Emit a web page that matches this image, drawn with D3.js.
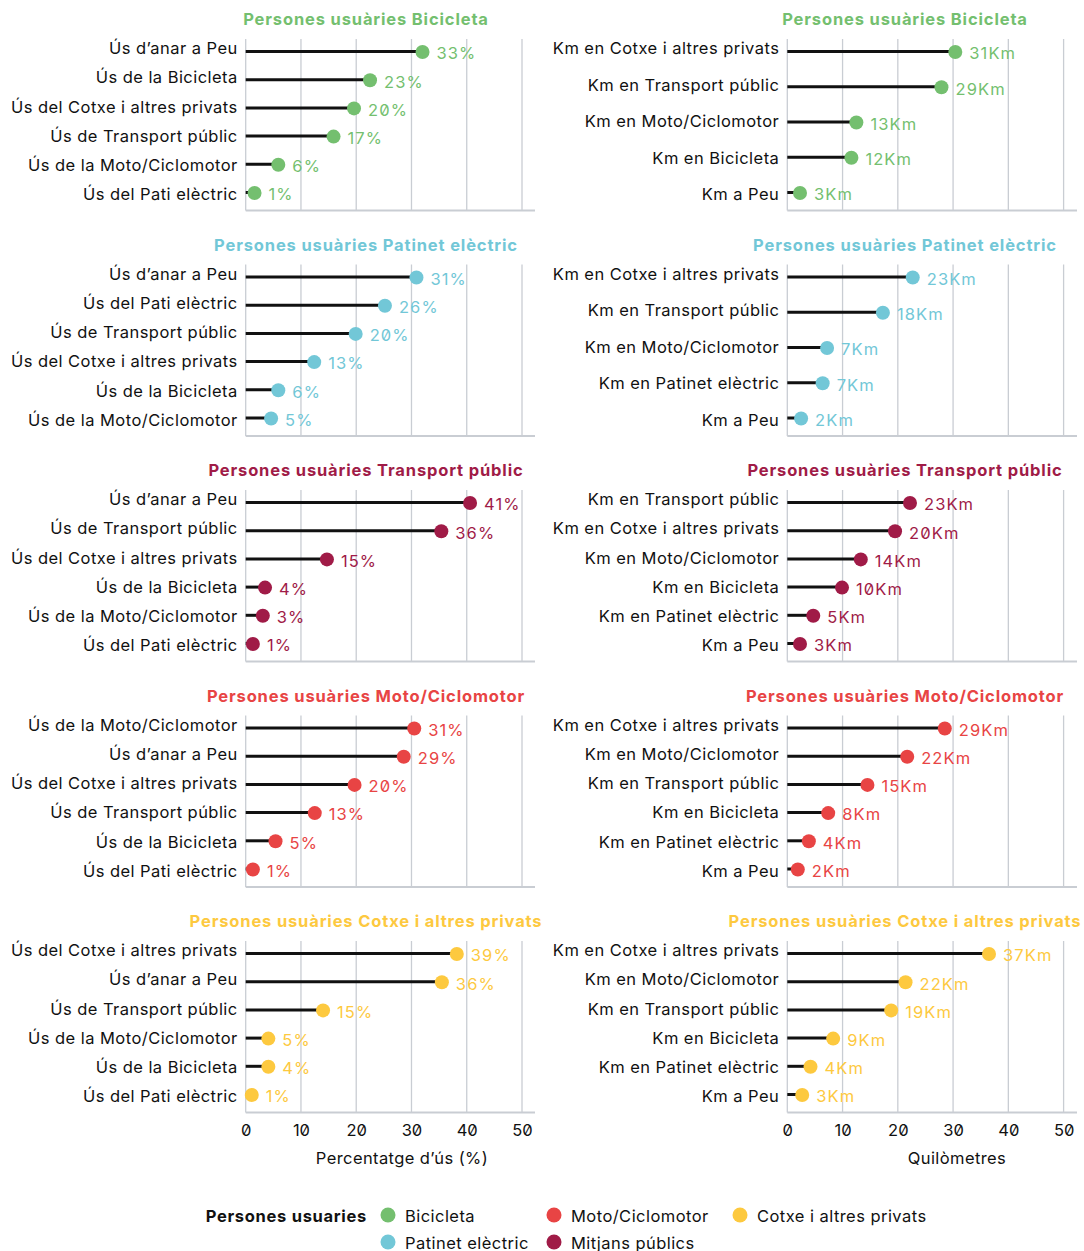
<!DOCTYPE html>
<html>
<head>
<meta charset="utf-8">
<script src="https://cdn.jsdelivr.net/npm/d3@7"></script>
<style>
  body { margin: 0; background: #fff; }
  svg { font-family: Inter, "Noto Sans", sans-serif; font-feature-settings: "zero" 1; }
</style>
</head>
<body>
<div id="chart"></div>
<script>
// groups of users (one row of panels per group)
var groupNames = ["Bicicleta", "Patinet elèctric", "Transport públic", "Moto/Ciclomotor", "Cotxe i altres privats"];
var groupColors = ["#74bf6f", "#72c7d7", "#a01b47", "#e84444", "#fdc93f"];

// left column: % d'ús
var usCatsBici = ["Ús d’anar a Peu", "Ús de la Bicicleta", "Ús del Cotxe i altres privats", "Ús de Transport públic", "Ús de la Moto/Ciclomotor", "Ús del Pati elèctric"];
var usValsBici = [32.0, 22.5, 19.6, 15.9, 5.9, 1.6];
var usLabsBici = ["33%", "23%", "20%", "17%", "6%", "1%"];

var usCatsPati = ["Ús d’anar a Peu", "Ús del Pati elèctric", "Ús de Transport públic", "Ús del Cotxe i altres privats", "Ús de la Bicicleta", "Ús de la Moto/Ciclomotor"];
var usValsPati = [30.9, 25.2, 19.9, 12.4, 5.9, 4.6];
var usLabsPati = ["31%", "26%", "20%", "13%", "6%", "5%"];

var usCatsTransp = ["Ús d’anar a Peu", "Ús de Transport públic", "Ús del Cotxe i altres privats", "Ús de la Bicicleta", "Ús de la Moto/Ciclomotor", "Ús del Pati elèctric"];
var usValsTransp = [40.6, 35.4, 14.7, 3.5, 3.1, 1.3];
var usLabsTransp = ["41%", "36%", "15%", "4%", "3%", "1%"];

var usCatsMoto = ["Ús de la Moto/Ciclomotor", "Ús d’anar a Peu", "Ús del Cotxe i altres privats", "Ús de Transport públic", "Ús de la Bicicleta", "Ús del Pati elèctric"];
var usValsMoto = [30.5, 28.6, 19.7, 12.5, 5.4, 1.3];
var usLabsMoto = ["31%", "29%", "20%", "13%", "5%", "1%"];

var usCatsCotxe = ["Ús del Cotxe i altres privats", "Ús d’anar a Peu", "Ús de Transport públic", "Ús de la Moto/Ciclomotor", "Ús de la Bicicleta", "Ús del Pati elèctric"];
var usValsCotxe = [38.2, 35.5, 14.0, 4.1, 4.1, 1.1];
var usLabsCotxe = ["39%", "36%", "15%", "5%", "4%", "1%"];

// right column: km
var kmCatsBici = ["Km en Cotxe i altres privats", "Km en Transport públic", "Km en Moto/Ciclomotor", "Km en Bicicleta", "Km a Peu"];
var kmValsBici = [30.4, 27.9, 12.5, 11.6, 2.3];
var kmLabsBici = ["31Km", "29Km", "13Km", "12Km", "3Km"];

var kmCatsPati = ["Km en Cotxe i altres privats", "Km en Transport públic", "Km en Moto/Ciclomotor", "Km en Patinet elèctric", "Km a Peu"];
var kmValsPati = [22.7, 17.3, 7.2, 6.4, 2.5];
var kmLabsPati = ["23Km", "18Km", "7Km", "7Km", "2Km"];

var kmCatsTransp = ["Km en Transport públic", "Km en Cotxe i altres privats", "Km en Moto/Ciclomotor", "Km en Bicicleta", "Km en Patinet elèctric", "Km a Peu"];
var kmValsTransp = [22.2, 19.5, 13.3, 9.9, 4.7, 2.3];
var kmLabsTransp = ["23Km", "20Km", "14Km", "10Km", "5Km", "3Km"];

var kmCatsMoto = ["Km en Cotxe i altres privats", "Km en Moto/Ciclomotor", "Km en Transport públic", "Km en Bicicleta", "Km en Patinet elèctric", "Km a Peu"];
var kmValsMoto = [28.5, 21.7, 14.5, 7.4, 3.9, 1.9];
var kmLabsMoto = ["29Km", "22Km", "15Km", "8Km", "4Km", "2Km"];

var kmCatsCotxe = ["Km en Cotxe i altres privats", "Km en Moto/Ciclomotor", "Km en Transport públic", "Km en Bicicleta", "Km en Patinet elèctric", "Km a Peu"];
var kmValsCotxe = [36.5, 21.4, 18.8, 8.3, 4.2, 2.7];
var kmLabsCotxe = ["37Km", "22Km", "19Km", "9Km", "4Km", "3Km"];

var xTicks = [0, 10, 20, 30, 40, 50];
var axisTitles = ["Percentatge d’ús (%)", "Quilòmetres"];

var legendTitle = "Persones usuaries";
var legendNames = ["Bicicleta", "Patinet elèctric", "Moto/Ciclomotor", "Mitjans públics", "Cotxe i altres privats"];
var legendColors = ["#74bf6f", "#72c7d7", "#e84444", "#a01b47", "#fdc93f"];

var leftPanels = [
    [usCatsBici, usValsBici, usLabsBici],
    [usCatsPati, usValsPati, usLabsPati],
    [usCatsTransp, usValsTransp, usLabsTransp],
    [usCatsMoto, usValsMoto, usLabsMoto],
    [usCatsCotxe, usValsCotxe, usLabsCotxe]
];
var rightPanels = [
    [kmCatsBici, kmValsBici, kmLabsBici],
    [kmCatsPati, kmValsPati, kmLabsPati],
    [kmCatsTransp, kmValsTransp, kmLabsTransp],
    [kmCatsMoto, kmValsMoto, kmLabsMoto],
    [kmCatsCotxe, kmValsCotxe, kmLabsCotxe]
];

var width = 1084, height = 1251;
var svg = d3.select("#chart").append("svg").attr("width", width).attr("height", height);

var columns = [
    { x: d3.scaleLinear().domain([0, 50]).range([245.7, 522]), end: 535, titleX: 366, axisTitleX: 402, panels: leftPanels },
    { x: d3.scaleLinear().domain([0, 50]).range([787.3, 1063.6]), end: 1077, titleX: 905, axisTitleX: 957, panels: rightPanels }
];

var pitch = 225.5, firstBase = 210.5;

columns.forEach(function (col, ci) {
    var x = col.x;
    col.panels.forEach(function (p, i) {
        var cats = p[0], vals = p[1], labs = p[2];
        var color = groupColors[i];
        var base = firstBase + pitch * i;
        var top = base - 171.5;
        // dots and category labels sit on slightly different point scales
        var y = d3.scalePoint().domain(cats).range([base - 159, base - 18]);
        var yl = d3.scalePoint().domain(cats).range([base - 162.3, base - 16.2]);
        var g = svg.append("g");

        g.append("text")
            .attr("x", col.titleX).attr("y", top - 14)
            .attr("text-anchor", "middle")
            .style("font-size", "16.5px").style("font-weight", 700)
            .style("letter-spacing", "0.85px")
            .style("fill", color)
            .text("Persones usuàries " + groupNames[i]);

        // grid
        g.selectAll(".grid").data(xTicks).enter().append("line")
            .attr("x1", function (d) { return x(d); }).attr("x2", function (d) { return x(d); })
            .attr("y1", top).attr("y2", base)
            .attr("stroke", "#c9cdd3").attr("stroke-width", 1.3);
        g.append("line")
            .attr("x1", x(0)).attr("x2", col.end)
            .attr("y1", base).attr("y2", base)
            .attr("stroke", "#c9cdd3").attr("stroke-width", 2);

        var idx = d3.range(cats.length);

        g.selectAll(".cat").data(idx).enter().append("text")
            .attr("x", x(0) - 8).attr("y", function (d) { return yl(cats[d]) + 6; })
            .attr("text-anchor", "end")
            .style("font-size", "16.5px").style("letter-spacing", "0.45px").style("fill", "#111")
            .text(function (d) { return cats[d]; });

        g.selectAll(".stem").data(idx).enter().append("line")
            .attr("x1", x(0)).attr("x2", function (d) { return x(vals[d]); })
            .attr("y1", function (d) { return y(cats[d]); })
            .attr("y2", function (d) { return y(cats[d]); })
            .attr("stroke", "#111").attr("stroke-width", 3);

        g.selectAll(".dot").data(idx).enter().append("circle")
            .attr("cx", function (d) { return x(vals[d]); })
            .attr("cy", function (d) { return y(cats[d]) + 0.5; })
            .attr("r", 7)
            .attr("fill", color);

        g.selectAll(".val").data(idx).enter().append("text")
            .attr("x", function (d) { return x(vals[d]) + 14; })
            .attr("y", function (d) { return y(cats[d]) + 7.8; })
            .style("font-size", "16.5px").style("letter-spacing", "1.1px").style("fill", color)
            .text(function (d) { return labs[d]; });

        if (i === col.panels.length - 1) {
            var axis = d3.axisBottom(x).tickValues(xTicks).tickSize(0).tickPadding(0);
            var ag = g.append("g").attr("transform", "translate(0," + base + ")").call(axis);
            ag.select(".domain").remove();
            ag.selectAll("text")
                .attr("y", 23).attr("dy", 0)
                .style("font-family", "Inter, sans-serif")
                .style("font-size", "16.5px").style("fill", "#111");
            g.append("text")
                .attr("x", col.axisTitleX).attr("y", 1164)
                .attr("text-anchor", "middle")
                .style("font-size", "16.5px").style("letter-spacing", "0.4px").style("fill", "#111")
                .text(axisTitles[ci]);
        }
    });
});

// legend
var lg = svg.append("g");
lg.append("text").attr("x", 367).attr("y", 1222).attr("text-anchor", "end")
    .style("font-size", "16.5px").style("font-weight", 700).style("letter-spacing", "0.7px").style("fill", "#111")
    .text(legendTitle);
var legX = [388, 388, 554, 554, 740];
var legY = [1215, 1242, 1215, 1242, 1215];
lg.selectAll("circle").data(legendNames).enter().append("circle")
    .attr("cx", function (d, i) { return legX[i]; })
    .attr("cy", function (d, i) { return legY[i]; })
    .attr("r", 7.5)
    .attr("fill", function (d, i) { return legendColors[i]; });
lg.selectAll(".lt").data(legendNames).enter().append("text")
    .attr("x", function (d, i) { return legX[i] + 17; })
    .attr("y", function (d, i) { return legY[i] + 6.5; })
    .style("font-size", "16.5px").style("letter-spacing", "0.45px").style("fill", "#111")
    .text(function (d) { return d; });
</script>
</body>
</html>
